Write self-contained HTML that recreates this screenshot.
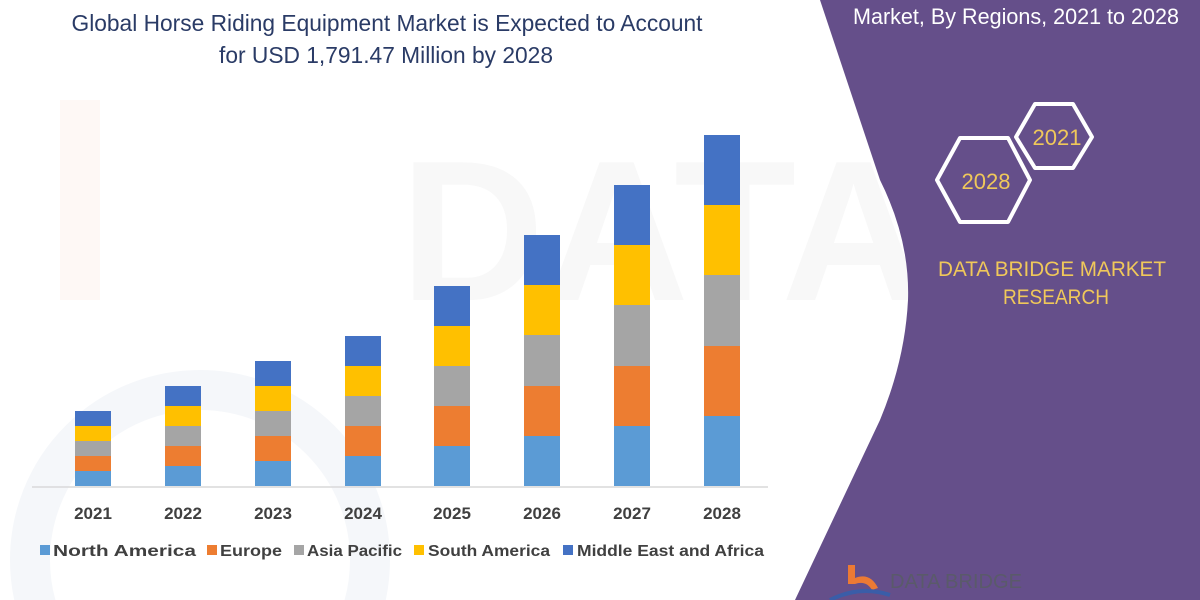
<!DOCTYPE html>
<html><head><meta charset="utf-8"><style>
html,body{margin:0;padding:0;background:#fff;width:1200px;height:600px;overflow:hidden;}
svg{display:block;}
text{font-family:"Liberation Sans",sans-serif;}
</style></head><body>
<svg width="1200" height="600" viewBox="0 0 1200 600" xmlns="http://www.w3.org/2000/svg">
<rect width="1200" height="600" fill="#fff"/>
<path d="M60 100 L100 100 L100 300 L60 300 Z" fill="#fef8f5"/>
<circle cx="200" cy="560" r="170" fill="none" stroke="#f5f7fa" stroke-width="40"/>
<text x="400" y="300" font-size="200" fill="#f8f8f8" font-weight="bold">DATA</text>
<path d="M820 0 L1200 0 L1200 600 L795 600 L880 420 Q905 360 908 300 Q910 240 880 180 Z" fill="#654f8a"/>
<text x="1016" y="24" font-size="22" fill="#fff" text-anchor="middle" textLength="326" lengthAdjust="spacingAndGlyphs">Market, By Regions, 2021 to 2028</text>
<polygon points="937,180 960,138 1008,138 1030,180 1008,222 960,222" fill="none" stroke="#fff" stroke-width="4" stroke-linejoin="round"/>
<polygon points="1016,137 1035,104 1073,104 1092,137 1073,168 1035,168" fill="none" stroke="#fff" stroke-width="4" stroke-linejoin="round"/>
<text x="986" y="189" font-size="22" fill="#f0c85a" text-anchor="middle">2028</text>
<text x="1057" y="145" font-size="22" fill="#f0c85a" text-anchor="middle">2021</text>
<text x="1052" y="276" font-size="21" fill="#f0c85a" text-anchor="middle" textLength="228" lengthAdjust="spacingAndGlyphs">DATA BRIDGE MARKET</text>
<text x="1056" y="304" font-size="21" fill="#f0c85a" text-anchor="middle" textLength="106" lengthAdjust="spacingAndGlyphs">RESEARCH</text>
<path d="M848 565 L855 565 L855 578 Q870 572 878 588 L872 590 Q866 580 855 584 L848 584 Z" fill="#ec7a34"/>
<path d="M830 600 Q860 585 890 595" fill="none" stroke="#3a5da8" stroke-width="4"/>
<text x="890" y="588" font-size="20" fill="#5a5a6a" textLength="132" lengthAdjust="spacingAndGlyphs">DATA BRIDGE</text>
<text x="387" y="31" font-size="23" fill="#2a3b66" text-anchor="middle" textLength="631" lengthAdjust="spacingAndGlyphs">Global Horse Riding Equipment Market is Expected to Account</text>
<text x="386" y="63" font-size="23" fill="#2a3b66" text-anchor="middle" textLength="334" lengthAdjust="spacingAndGlyphs">for USD 1,791.47 Million by 2028</text>
<g>
<g transform="translate(75,0)">
<rect y="471" width="36" height="15" fill="#5b9bd5"/><rect y="456" width="36" height="15" fill="#ed7d31"/><rect y="441" width="36" height="15" fill="#a5a5a5"/><rect y="426" width="36" height="15" fill="#ffc000"/><rect y="411" width="36" height="15" fill="#4472c4"/></g>
<g transform="translate(165,0)">
<rect y="466" width="36" height="20" fill="#5b9bd5"/><rect y="446" width="36" height="20" fill="#ed7d31"/><rect y="426" width="36" height="20" fill="#a5a5a5"/><rect y="406" width="36" height="20" fill="#ffc000"/><rect y="386" width="36" height="20" fill="#4472c4"/></g>
<g transform="translate(255,0)">
<rect y="461" width="36" height="25" fill="#5b9bd5"/><rect y="436" width="36" height="25" fill="#ed7d31"/><rect y="411" width="36" height="25" fill="#a5a5a5"/><rect y="386" width="36" height="25" fill="#ffc000"/><rect y="361" width="36" height="25" fill="#4472c4"/></g>
<g transform="translate(345,0)">
<rect y="456" width="36" height="30" fill="#5b9bd5"/><rect y="426" width="36" height="30" fill="#ed7d31"/><rect y="396" width="36" height="30" fill="#a5a5a5"/><rect y="366" width="36" height="30" fill="#ffc000"/><rect y="336" width="36" height="30" fill="#4472c4"/></g>
<g transform="translate(434,0)">
<rect y="446" width="36" height="40" fill="#5b9bd5"/><rect y="406" width="36" height="40" fill="#ed7d31"/><rect y="366" width="36" height="40" fill="#a5a5a5"/><rect y="326" width="36" height="40" fill="#ffc000"/><rect y="286" width="36" height="40" fill="#4472c4"/></g>
<g transform="translate(524,0)">
<rect y="436" width="36" height="50" fill="#5b9bd5"/><rect y="386" width="36" height="50" fill="#ed7d31"/><rect y="335" width="36" height="51" fill="#a5a5a5"/><rect y="285" width="36" height="50" fill="#ffc000"/><rect y="235" width="36" height="50" fill="#4472c4"/></g>
<g transform="translate(614,0)">
<rect y="426" width="36" height="60" fill="#5b9bd5"/><rect y="366" width="36" height="60" fill="#ed7d31"/><rect y="305" width="36" height="61" fill="#a5a5a5"/><rect y="245" width="36" height="60" fill="#ffc000"/><rect y="185" width="36" height="60" fill="#4472c4"/></g>
<g transform="translate(704,0)">
<rect y="416" width="36" height="70" fill="#5b9bd5"/><rect y="346" width="36" height="70" fill="#ed7d31"/><rect y="275" width="36" height="71" fill="#a5a5a5"/><rect y="205" width="36" height="70" fill="#ffc000"/><rect y="135" width="36" height="70" fill="#4472c4"/></g>
</g>
<line x1="32" y1="487" x2="768" y2="487" stroke="#d9d9d9" stroke-width="1.5"/>
<g font-size="17" font-weight="bold" fill="#404040" text-anchor="middle">
<text x="93" y="519">2021</text><text x="183" y="519">2022</text><text x="273" y="519">2023</text><text x="363" y="519">2024</text><text x="452" y="519">2025</text><text x="542" y="519">2026</text><text x="632" y="519">2027</text><text x="722" y="519">2028</text>
</g>
<g font-size="16" font-weight="bold" fill="#404040">
<rect x="40" y="545" width="10" height="10" fill="#5b9bd5"/><text x="53" y="556" textLength="143" lengthAdjust="spacingAndGlyphs">North America</text>
<rect x="207" y="545" width="10" height="10" fill="#ed7d31"/><text x="220" y="556" textLength="62" lengthAdjust="spacingAndGlyphs">Europe</text>
<rect x="294" y="545" width="10" height="10" fill="#a5a5a5"/><text x="307" y="556" textLength="95" lengthAdjust="spacingAndGlyphs">Asia Pacific</text>
<rect x="414" y="545" width="10" height="10" fill="#ffc000"/><text x="428" y="556" textLength="122" lengthAdjust="spacingAndGlyphs">South America</text>
<rect x="563" y="545" width="10" height="10" fill="#4472c4"/><text x="577" y="556" textLength="187" lengthAdjust="spacingAndGlyphs">Middle East and Africa</text>
</g>
</svg>
</body></html>
